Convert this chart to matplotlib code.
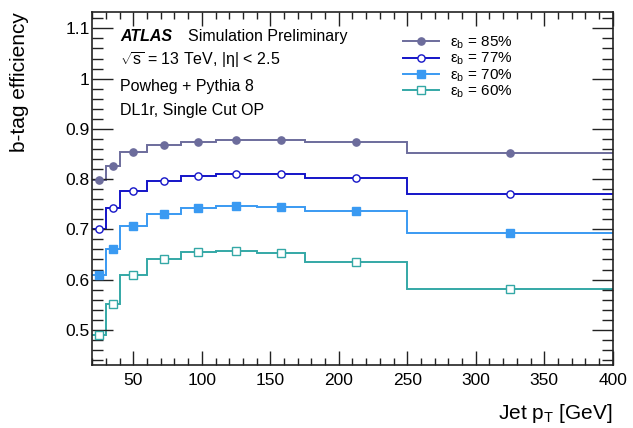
import numpy as np
import matplotlib
matplotlib.use("Agg")
import matplotlib.pyplot as plt
from matplotlib.ticker import MultipleLocator, FuncFormatter

plt.rcParams['font.family'] = ['Liberation Sans', 'DejaVu Sans']
plt.rcParams['mathtext.fontset'] = 'custom'
plt.rcParams['mathtext.rm'] = 'Liberation Sans'
plt.rcParams['mathtext.it'] = 'Liberation Sans:italic'
plt.rcParams['mathtext.bf'] = 'Liberation Sans:bold'

# Jet pT bin edges [GeV]
pt_edges = [20, 30, 40, 60, 85, 110, 140, 175, 250, 400]

# b-tagging efficiency per bin for each working point
eff_85 = [0.798, 0.827, 0.854, 0.867, 0.874, 0.877, 0.878, 0.873, 0.852]
eff_77 = [0.700, 0.742, 0.777, 0.796, 0.806, 0.810, 0.811, 0.802, 0.770]
eff_70 = [0.610, 0.661, 0.707, 0.730, 0.742, 0.746, 0.744, 0.736, 0.692]
eff_60 = [0.490, 0.552, 0.610, 0.641, 0.654, 0.656, 0.652, 0.635, 0.581]

labels = ["85%", "77%", "70%", "60%"]

series = [
    (eff_85, "#6c6c9c", "o", True),
    (eff_77, "#1414c8", "o", False),
    (eff_70, "#3a9af2", "s", True),
    (eff_60, "#34a8a6", "s", False),
]

fig = plt.figure(figsize=(6.33, 4.28), dpi=100)
ax = fig.add_axes([0.1458, 0.1472, 0.8221, 0.8241])

edges = np.asarray(pt_edges, dtype=float)
centers = 0.5 * (edges[:-1] + edges[1:])

handles = []
for (vals, col, mk, filled), lab in zip(series, labels):
    ax.stairs(vals, edges, color=col, lw=1.4, baseline=None)
    ax.plot(centers, vals, ls='none', marker=mk, ms=5.2,
            mfc=col if filled else 'white', mec=col, mew=1.0)
    proxy, = ax.plot([], [], color=col, lw=1.4, marker=mk, ms=5.2,
                     mfc=col if filled else 'white', mec=col, mew=1.0)
    proxy.set_label(r"ε$_\mathrm{b}$ = " + lab)
    handles.append(proxy)

ax.set_xlim(20, 400)
ax.set_ylim(0.430, 1.132)

ax.xaxis.set_major_locator(MultipleLocator(50))
ax.xaxis.set_minor_locator(MultipleLocator(10))
ax.yaxis.set_major_locator(MultipleLocator(0.1))
ax.yaxis.set_minor_locator(MultipleLocator(0.02))
ax.yaxis.set_major_formatter(FuncFormatter(lambda v, p: f"{v:g}"))

ax.tick_params(which='both', direction='in', top=True, right=True,
               labelsize=12.5, width=1.0, color='#222222')
ax.tick_params(axis='x', which='major', length=10, pad=5.5)
ax.tick_params(axis='x', which='minor', length=5)
ax.tick_params(axis='y', which='major', length=15, pad=2)
ax.tick_params(axis='y', which='minor', length=8)
for sp in ax.spines.values():
    sp.set_linewidth(1.2)
    sp.set_color('#222222')

ax.set_xlabel(r"Jet p$_\mathrm{T}$ [GeV]", fontsize=15, loc='right', labelpad=10)
ax.set_ylabel("b-tag efficiency", fontsize=15, loc='top', labelpad=26)

info_fs = 11.5
ax.text(0.053, 0.931, "ATLAS", transform=ax.transAxes, fontsize=info_fs,
        fontweight='bold', fontstyle='italic', va='center', ha='left')
ax.text(0.183, 0.931, "Simulation Preliminary", transform=ax.transAxes,
        fontsize=info_fs, va='center', ha='left')
ax.text(0.053, 0.865, r"$\sqrt{\mathrm{s}}$ = 13 TeV, |η| < 2.5",
        transform=ax.transAxes, fontsize=info_fs, va='center', ha='left')
ax.text(0.053, 0.789, "Powheg + Pythia 8", transform=ax.transAxes,
        fontsize=info_fs, va='center', ha='left')
ax.text(0.053, 0.721, "DL1r, Single Cut OP", transform=ax.transAxes,
        fontsize=info_fs, va='center', ha='left')

ax.legend(handles=handles, loc='upper left', bbox_to_anchor=(0.585, 0.954),
          frameon=False, fontsize=11, handlelength=2.4, handletextpad=0.7,
          labelspacing=0.0, borderaxespad=0)

fig.savefig("out.png", dpi=100)
